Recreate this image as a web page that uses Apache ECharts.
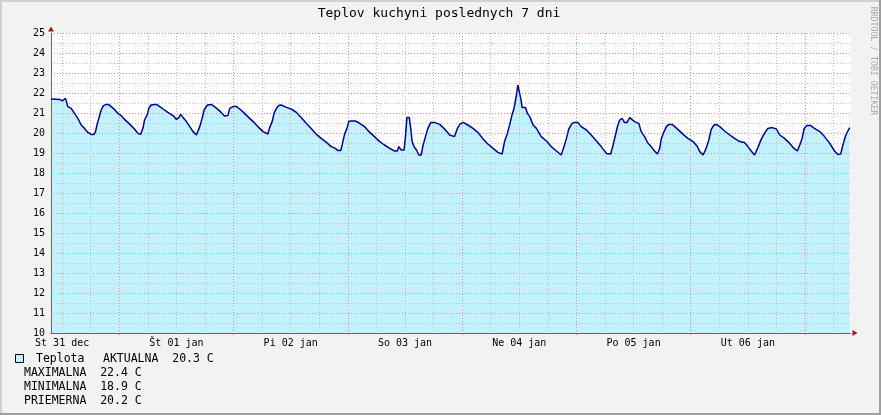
<!DOCTYPE html>
<html><head><meta charset="utf-8">
<script src="https://cdn.jsdelivr.net/npm/echarts@6/dist/echarts.min.js"></script>
<style>html,body{margin:0;padding:0;background:#f2f2f2}#c{width:881px;height:415px}</style>
</head><body><div id="c"></div>
<script>
// ---- data ----
const title = 'Teplov kuchyni poslednych 7 dni';
const seriesName = 'Teplota';
const dayLabels = ['St 31 dec', 'Št 01 jan', 'Pi 02 jan', 'So 03 jan', 'Ne 04 jan', 'Po 05 jan', 'Ut 06 jan'];
const startHour = 9.66;   // hours after 31 dec 00:00 where the graph starts
const spanHours = 168;    // 7 days
const yMin = 10, yMax = 25, yStep = 1;
const hours = [9.66,11.5,12.0,12.7,13.2,13.9,14.6,15.3,16.0,16.7,17.4,18.1,18.7,19.0,19.4,19.9,20.2,20.7,21.3,21.8,22.3,23.0,23.7,24.4,25.1,25.8,26.5,27.2,27.9,28.5,29.0,29.3,29.9,30.2,30.7,31.4,31.9,32.5,33.2,34.2,35.3,36.0,36.5,36.9,37.4,38.1,38.8,39.5,40.2,40.4,40.9,41.4,41.8,42.5,43.3,44.0,44.7,45.4,46.1,46.8,47.2,47.9,48.6,49.3,50.3,51.0,52.1,53.1,54.2,55.2,55.6,56.1,56.5,57.0,57.5,58.0,59.1,60.1,61.2,62.2,63.3,64.3,65.4,66.4,67.5,68.5,69.4,69.9,70.5,70.8,71.3,71.8,72.2,72.7,73.6,74.5,75.5,76.6,77.6,78.7,79.7,80.8,81.8,82.4,82.7,83.2,83.8,84.1,84.4,84.9,85.2,85.5,85.9,86.4,86.9,87.4,87.8,88.3,88.8,89.4,90.2,91.3,92.3,93.4,94.4,95.0,95.5,96.2,97.2,98.3,99.3,100.4,101.4,102.5,103.5,104.4,104.9,105.5,106.0,106.5,106.9,107.4,107.7,108.0,108.3,108.6,109.0,109.3,109.7,110.2,110.9,111.6,112.6,113.7,114.7,115.8,116.8,117.4,117.9,118.4,119.1,119.6,120.3,121.0,122.1,123.1,124.2,125.2,126.3,127.2,127.7,128.2,128.7,129.1,129.6,130.1,130.6,131.2,131.5,132.2,133.1,133.6,134.3,135.0,135.7,136.4,137.0,137.5,137.8,138.4,138.9,139.4,140.1,140.3,141.3,142.4,143.4,144.5,145.4,145.9,146.6,147.3,147.8,148.3,148.9,149.4,150.1,151.1,152.2,153.2,154.3,155.3,156.0,156.7,157.4,158.1,158.8,159.5,160.2,161.1,161.5,162.0,162.7,163.7,164.8,165.7,166.4,166.9,167.4,167.8,168.3,169.2,170.0,171.1,172.1,173.2,174.2,174.9,175.5,176.0,176.5,177.0,177.4];
const temps = [21.70,21.68,21.60,21.73,21.32,21.23,20.98,20.73,20.40,20.23,20.03,19.93,19.93,20.07,20.48,20.90,21.15,21.37,21.43,21.42,21.32,21.18,20.98,20.87,20.68,20.53,20.37,20.20,19.98,19.93,20.27,20.65,20.93,21.23,21.40,21.43,21.42,21.32,21.20,21.03,20.87,20.68,20.77,20.93,20.77,20.57,20.32,20.07,19.90,19.90,20.32,20.73,21.15,21.40,21.43,21.32,21.18,21.03,20.85,20.87,21.23,21.32,21.32,21.20,20.98,20.82,20.57,20.32,20.07,19.95,20.28,20.57,20.98,21.23,21.37,21.40,21.28,21.20,21.03,20.78,20.48,20.23,19.93,19.73,19.53,19.32,19.23,19.12,19.12,19.40,19.93,20.23,20.57,20.60,20.60,20.48,20.32,20.03,19.82,19.57,19.40,19.23,19.10,19.10,19.32,19.15,19.15,19.82,20.77,20.77,20.23,19.57,19.32,19.15,18.90,18.90,19.40,19.82,20.23,20.52,20.53,20.43,20.20,19.90,19.82,20.23,20.43,20.53,20.40,20.23,20.03,19.70,19.45,19.23,19.03,18.95,19.57,19.98,20.43,20.93,21.23,21.90,22.40,22.43,21.73,21.27,21.20,21.27,20.98,20.82,20.40,20.23,19.82,19.60,19.32,19.10,18.90,19.32,19.73,20.20,20.48,20.53,20.53,20.32,20.15,19.90,19.60,19.32,18.98,18.95,19.40,19.90,20.40,20.65,20.73,20.52,20.52,20.77,20.70,20.57,20.48,20.07,19.82,19.50,19.32,19.10,18.95,19.23,19.70,20.07,20.32,20.43,20.43,20.35,20.18,19.93,19.73,19.57,19.32,19.07,18.90,19.27,19.65,20.18,20.40,20.43,20.32,20.10,19.90,19.73,19.57,19.52,19.32,19.10,18.90,19.27,19.68,19.98,20.23,20.27,20.32,20.20,19.90,19.73,19.48,19.23,19.10,19.40,19.73,20.20,20.37,20.37,20.23,20.07,19.82,19.48,19.10,18.93,18.95,19.43,19.85,20.10,20.27];
const currentLabel = 'AKTUALNA';
const currentValue = '20.3';
const statNames = ['MAXIMALNA', 'MINIMALNA', 'PRIEMERNA'];
const statValues = ['22.4', '18.9', '20.2'];
const unit = 'C';
const watermark = 'RRDTOOL / TOBI OETIKER';

// ---- chart ----
const FONT = '"DejaVu Sans Mono", monospace';
const AREA = '#c2f1ff', LINE = '#00009c';
const MINOR = '#bdbdbd', MAJOR = '#e39090', AXIS = '#666666', ARROW = '#a01818';
const DASH = [1, 2];
const xMin = startHour, xMax = startHour + spanHours;
const sixHour = [], midnights = [];
for (let h = Math.ceil(xMin / 6) * 6; h <= xMax; h += 6) {
  if (h % 24 === 0) midnights.push(h); else sixHour.push(h);
}
const noons = dayLabels.map((d, i) => 12 + 24 * i);
const pts = hours.map((h, i) => [h, temps[i]]);

const legendRows = statNames.map((n, i) => ({
  type: 'text', x: 24, y: 373 + 14 * i,
  style: { text: n + '  ' + statValues[i] + ' ' + unit, font: '11.5px ' + FONT, fill: '#000', verticalAlign: 'middle' }
}));

const chart = echarts.init(document.getElementById('c'), null, { renderer: 'canvas' });
chart.setOption({
  animation: false,
  backgroundColor: '#f2f2f2',
  grid: { left: 51, right: 30, top: 33, bottom: 82, show: true, backgroundColor: '#ffffff', borderWidth: 0 },
  xAxis: [
    { type: 'value', min: xMin, max: xMax, z: 3,
      axisLine: { show: true, lineStyle: { color: AXIS, width: 1 } },
      axisTick: { show: false, customValues: sixHour },
      axisLabel: { show: false },
      splitLine: { show: true, lineStyle: { color: MINOR, type: DASH, width: 1 } } },
    { type: 'value', min: xMin, max: xMax, position: 'bottom', z: 3,
      axisLine: { show: true, symbol: ['none', 'triangle'], symbolSize: [6, 5], symbolOffset: [0, 4],
                  lineStyle: { color: ARROW, opacity: 0 } },
      axisTick: { show: true, length: 2, customValues: midnights, lineStyle: { color: '#e06060' } },
      axisLabel: { customValues: noons, formatter: v => dayLabels[Math.round((v - 12) / 24)],
                   fontFamily: FONT, fontSize: 10, color: '#000', margin: 5 },
      splitLine: { show: true, lineStyle: { color: MAJOR, type: DASH, width: 1 } } }
  ],
  yAxis: [
    { type: 'value', min: yMin, max: yMax, interval: yStep, z: 3,
      axisLine: { show: true, lineStyle: { color: AXIS, width: 1 } },
      axisTick: { show: false },
      axisLabel: { fontFamily: FONT, fontSize: 10, color: '#000', margin: 6 },
      splitLine: { show: true, lineStyle: { color: MAJOR, type: DASH, width: 1 } },
      minorTick: { show: false, splitNumber: 2 },
      minorSplitLine: { show: true, lineStyle: { color: MINOR, type: DASH, width: 1 } } },
    { type: 'value', min: yMin, max: yMax, position: 'left', z: 3,
      axisLine: { show: true, symbol: ['none', 'triangle'], symbolSize: [6, 5], symbolOffset: [0, 4],
                  lineStyle: { color: ARROW, opacity: 0 } },
      axisTick: { show: false }, axisLabel: { show: false }, splitLine: { show: false } }
  ],
  series: [
    { name: seriesName, type: 'line', data: pts, xAxisIndex: 0, yAxisIndex: 0, z: 2,
      showSymbol: false, symbol: 'none', lineStyle: { width: 0 },
      areaStyle: { color: AREA, opacity: 1, origin: 'start' }, silent: true },
    { name: seriesName, type: 'line', data: pts, xAxisIndex: 0, yAxisIndex: 0, z: 5,
      showSymbol: false, symbol: 'none', lineStyle: { color: LINE, width: 1.5 }, silent: true }
  ],
  graphic: [
    { type: 'rect', shape: { x: 0, y: 0, width: 881, height: 2 }, style: { fill: '#cfcfcf' }, silent: true },
    { type: 'rect', shape: { x: 0, y: 0, width: 2, height: 415 }, style: { fill: '#cfcfcf' }, silent: true },
    { type: 'rect', shape: { x: 0, y: 413, width: 881, height: 2 }, style: { fill: '#9e9e9e' }, silent: true },
    { type: 'rect', shape: { x: 879, y: 0, width: 2, height: 415 }, style: { fill: '#9e9e9e' }, silent: true },
    { type: 'text', x: 439, y: 14, style: { text: title, font: '13px ' + FONT, fill: '#000', align: 'center', verticalAlign: 'middle' } },
    { type: 'text', x: 873, y: 61, rotation: -Math.PI / 2,
      style: { text: watermark, font: '8.2px ' + FONT, fill: '#a8a8a8', align: 'center', verticalAlign: 'middle' } },
    { type: 'rect', shape: { x: 15.5, y: 354.5, width: 8, height: 8 }, style: { fill: AREA, stroke: '#000', lineWidth: 1 } },
    { type: 'text', x: 36, y: 359, style: { text: seriesName, font: '11.5px ' + FONT, fill: '#000', verticalAlign: 'middle' } },
    { type: 'text', x: 103, y: 359, style: { text: currentLabel + '  ' + currentValue + ' ' + unit, font: '11.5px ' + FONT, fill: '#000', verticalAlign: 'middle' } }
  ].concat(legendRows)
});
</script>
</body></html>
